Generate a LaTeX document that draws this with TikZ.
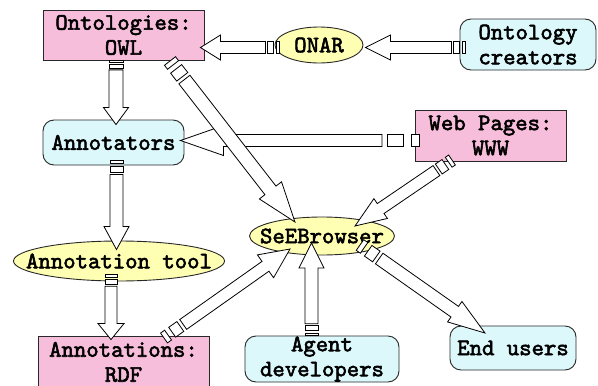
\documentclass[tikz,border=0pt]{standalone}
\usepackage{fontspec}
\newfontfamily\heavytt{lmmono10-regular.otf}[FakeBold=2.4]
\usetikzlibrary{calc,shapes.geometric}

\definecolor{boxpink}{RGB}{246,190,218}
\definecolor{boxcyan}{RGB}{220,248,251}
\definecolor{boxyellow}{RGB}{255,255,180}
\definecolor{edgegray}{RGB}{40,40,40}

\tikzset{
  txt/.style={font=\fontsize{23.6}{25}\selectfont\heavytt, align=center, inner sep=0pt},
  datastore/.style={txt, draw=edgegray, line width=0.9pt, fill=boxpink, rectangle},
  actor/.style={txt, draw=edgegray, line width=0.9pt, fill=boxcyan, rectangle, rounded corners=11pt},
  toolnode/.style={draw=edgegray, line width=0.9pt, fill=boxyellow, ellipse, inner sep=0pt},
  arrowline/.style={draw=black, line width=0.8pt, fill=white, line join=miter},
}

% Striped block arrow: #1 tail, #2 tip, #3 body half-width, #4 head half-width,
% #5 head length, #6 width of the thin tail stripe (all in pt)
\newcommand\flowarrow[6]{%
  \path let \p1=($(#2)-(#1)$) in
    \pgfextra{\pgfmathsetmacro\arlen{veclen(\x1,\y1)}%
              \pgfmathsetmacro\arang{atan2(\y1,\x1)}%
              \xdef\Alen{\arlen}\xdef\Aang{\arang}};
  \begin{scope}[shift={(#1)}, rotate=\Aang]
    \pgfmathsetmacro\sa{#6}\pgfmathsetmacro\sb{2*#6}%
    \pgfmathsetmacro\sc{4*#6}\pgfmathsetmacro\sd{4.7*#6}%
    \pgfmathsetmacro\hb{\Alen-#5}%
    \draw[arrowline] (0pt,-#3pt) rectangle (\sa pt,#3pt);
    \draw[arrowline] (\sb pt,-#3pt) rectangle (\sc pt,#3pt);
    \draw[arrowline] (\sd pt,-#3pt) -- (\hb pt,-#3pt) -- (\hb pt,-#4pt)
      -- (\Alen pt,0pt) -- (\hb pt,#4pt) -- (\hb pt,#3pt) -- (\sd pt,#3pt) -- cycle;
  \end{scope}
}

\begin{document}
\begin{tikzpicture}[x=1pt,y=-1pt]
\useasboundingbox[fill=white] (0,0) rectangle (598,386);

% information sources and outputs
\node[datastore, minimum width=161pt, minimum height=50pt] (owl) at (123.5,35) {Ontologies:\\OWL};
\node[datastore, minimum width=151pt, minimum height=51pt] (www) at (490.5,135.5) {Web Pages:\\WWW};
\node[datastore, minimum width=171pt, minimum height=52pt] (rdf) at (123.5,362) {Annotations:\\RDF};

% people
\node[actor, minimum width=136pt, minimum height=51pt] (creators) at (528,44.5) {Ontology\\creators};
\node[actor, minimum width=141pt, minimum height=45pt] (annotators) at (113.5,142.5) {Annotators};
\node[actor, minimum width=154pt, minimum height=46pt] (agent) at (322,359) {Agent\\developers};
\node[actor, minimum width=126pt, minimum height=44pt] (endusers) at (513,348) {End users};

% software
\node[toolnode, minimum width=88pt, minimum height=36pt,
      label={[txt]center:ONAR}] (onar) at (319,45) {};
\node[toolnode, minimum width=145pt, minimum height=38pt,
      label={[txt]center:SeEBrowser}] (seeb) at (322,236) {};
\node[toolnode, minimum width=211pt, minimum height=40pt,
      label={[txt]center:Annotation tool}] (tool) at (119,261) {};

% arrow end points
\coordinate (creatorsOut) at ($(creators.west)+(6,3)$);
\coordinate (onarIn) at ($(onar.east)+(2,2.5)$);
\coordinate (onarOut) at ($(onar.west)+(5,2.5)$);
\coordinate (owlInRight) at ($(owl.east)+(-4,12.5)$);
\coordinate (owlOutDown) at ($(owl.south)+(-7.5,0)$);
\coordinate (annIn) at ($(annotators.north)+(2.5,5)$);
\coordinate (wwwOutLeft) at ($(www.west)+(5,5)$);
\coordinate (annInRight) at ($(annotators.east)+(-4,-2)$);
\coordinate (owlOutDiag) at (170,61);
\coordinate (seebInTop) at (295,222);
\coordinate (wwwOutDiag) at (452,160);
\coordinate (seebInRight) at (355,226);
\coordinate (annOutDown) at ($(annotators.south)+(3,-5)$);
\coordinate (toolIn) at ($(tool.north)+(-2.5,9)$);
\coordinate (toolOut) at ($(tool.south)+(-8,-7)$);
\coordinate (rdfIn) at ($(rdf.north)+(-12.5,4)$);
\coordinate (rdfOut) at (164,338);
\coordinate (seebInLeft) at (290,249);
\coordinate (agentOut) at ($(agent.north)+(-10.5,0)$);
\coordinate (seebInBottom) at (311.5,243);
\coordinate (seebOut) at (360,245);
\coordinate (endIn) at (485,333);

% flows
\flowarrow{creatorsOut}{onarIn}{6}{12.5}{25}{3}
\flowarrow{onarOut}{owlInRight}{6}{12.5}{20}{3}
\flowarrow{owlOutDown}{annIn}{7}{12.5}{17}{2}
\flowarrow{wwwOutLeft}{annInRight}{6}{15}{43}{8}
\flowarrow{owlOutDiag}{seebInTop}{7}{14}{40}{5}
\flowarrow{wwwOutDiag}{seebInRight}{6}{12}{31}{4}
\flowarrow{annOutDown}{toolIn}{6.5}{12.5}{23}{3}
\flowarrow{toolOut}{rdfIn}{6}{13}{16}{2.5}
\flowarrow{rdfOut}{seebInLeft}{6}{14}{30}{5}
\flowarrow{agentOut}{seebInBottom}{6.5}{12.5}{25}{2.5}
\flowarrow{seebOut}{endIn}{6.5}{12.5}{37}{5}
\end{tikzpicture}
\end{document}
